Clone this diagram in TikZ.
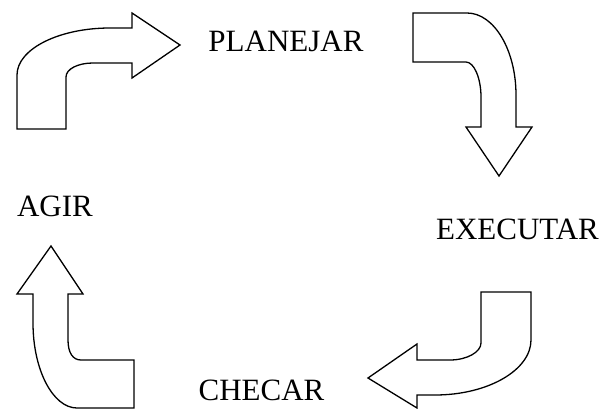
\documentclass[tikz,border=0pt]{standalone}
\usepackage{fontspec}
\setmainfont{Liberation Serif}
\begin{document}
\begin{tikzpicture}[x=1pt,y=-1pt,
  bentarrow/.style={draw=black,fill=white,line width=1.3pt,line join=miter},
  stage/.style={anchor=base,inner sep=0pt,font=\fontsize{31}{31}\selectfont}]
\useasboundingbox (0,0) rectangle (600,409);

% Plan -> Do (curved arrow, upper left)
\draw[bentarrow] (17,129) -- (17,75)
  .. controls (17,49) and (59,28) .. (110,28) -- (132,28) -- (132,13)
  -- (180,45) -- (132,78) -- (132,63) -- (93,63)
  .. controls (78,63) and (66,69) .. (66,77) -- (66,129) -- cycle;

% Do -> Check (curved arrow, upper right)
\draw[bentarrow] (413,13) -- (467,13)
  .. controls (494,13) and (516,50) .. (516,95) -- (516,127) -- (532,127)
  -- (499,176) -- (466,127) -- (481,127) -- (481,97)
  .. controls (481,78) and (474,62) .. (466,62) -- (413,62) -- cycle;

% Check -> Act (curved arrow, lower right)
\draw[bentarrow] (481,292) -- (531,292) -- (531,340)
  .. controls (531,370) and (488,395) .. (435,395) -- (417,395) -- (417,408)
  -- (368,378) -- (417,344) -- (417,360) -- (450,360)
  .. controls (467,360) and (481,352) .. (481,343) -- cycle;

% Act -> Plan (curved arrow, lower left)
\draw[bentarrow] (51,246) -- (83,294) -- (68,294) -- (68,340)
  .. controls (68,353) and (73,360) .. (81,360) -- (134,360) -- (134,408)
  -- (77,408) .. controls (53,408) and (33,370) .. (33,323)
  -- (33,294) -- (17,294) -- cycle;

\node[stage] (planejar) at (286,51.7) {PLANEJAR};
\node[stage] (executar) at (517.5,240) {EXECUTAR};
\node[stage] (checar) at (261.5,400) {CHECAR};
\node[stage] (agir) at (55,216) {AGIR};
\end{tikzpicture}
\end{document}
